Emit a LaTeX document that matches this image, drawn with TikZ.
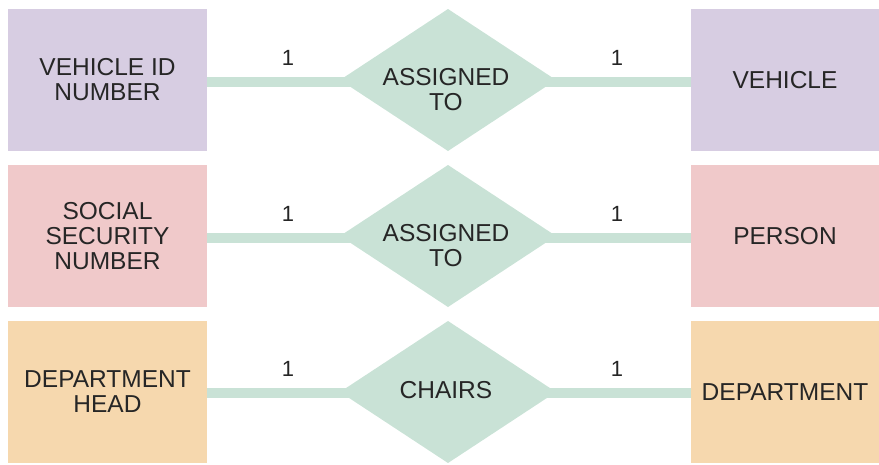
\documentclass[tikz,border=0pt]{standalone}
\usepackage{fontspec}
\setmainfont{Liberation Sans}
\usetikzlibrary{shapes.geometric}
\definecolor{vpurple}{HTML}{D7CDE2}
\definecolor{vpink}{HTML}{F0C9CA}
\definecolor{vorange}{HTML}{F6D8AE}
\definecolor{vgreen}{HTML}{C9E2D6}
\definecolor{vtext}{HTML}{262626}
\tikzset{
  entbox/.style={draw=none,minimum width=199pt,minimum height=142pt,inner sep=0pt,
    align=center,text=vtext,font=\fontsize{24.5}{25}\selectfont},
  entboxr/.style={entbox,minimum width=188pt},
  reltext/.style={align=center,text=vtext,font=\fontsize{24.5}{25}\selectfont},
  conn/.style={draw=vgreen,line width=10pt},
  card/.style={text=vtext,font=\fontsize{22}{24}\selectfont}
}
\begin{document}
\begin{tikzpicture}[x=1pt,y=-1pt]
\useasboundingbox (0,0) rectangle (879,464);
% row 1
\node[entbox,fill=vpurple] (l1) at (107.5,80) {VEHICLE ID\\NUMBER};
\node[entboxr,fill=vpurple] (r1) at (785,80) {VEHICLE};
% row 2
\node[entbox,fill=vpink] (l2) at (107.5,236) {SOCIAL\\SECURITY\\NUMBER};
\node[entboxr,fill=vpink] (r2) at (785,236) {PERSON};
% row 3
\node[entbox,fill=vorange] (l3) at (107.5,392) {DEPARTMENT\\HEAD};
\node[entboxr,fill=vorange] (r3) at (785,392) {DEPARTMENT};
% connectors
\draw[conn] ([yshift=-1.5pt]l1.east) -- ([yshift=-1.5pt]r1.west);
\draw[conn] ([yshift=-1.5pt]l2.east) -- ([yshift=-1.5pt]r2.west);
\draw[conn] ([yshift=-1pt]l3.east) -- ([yshift=-1pt]r3.west);
% diamonds
\fill[vgreen] (448,9) -- (556,80) -- (448,151) -- (340,80) -- cycle;
\fill[vgreen] (448,165) -- (556,236) -- (448,307) -- (340,236) -- cycle;
\fill[vgreen] (448,321) -- (556,392) -- (448,463) -- (340,392) -- cycle;
\node[reltext] (t1) at (446,90) {ASSIGNED\\TO};
\node[reltext] (t2) at (446,246) {ASSIGNED\\TO};
\node[reltext] (t3) at (446,390) {CHAIRS};
% cardinalities
\node[card] (c1a) at (288,58) {1};
\node[card] (c1b) at (617,58) {1};
\node[card] (c2a) at (288,214) {1};
\node[card] (c2b) at (617,214) {1};
\node[card] (c3a) at (288,369) {1};
\node[card] (c3b) at (617,369) {1};
\end{tikzpicture}
\end{document}
